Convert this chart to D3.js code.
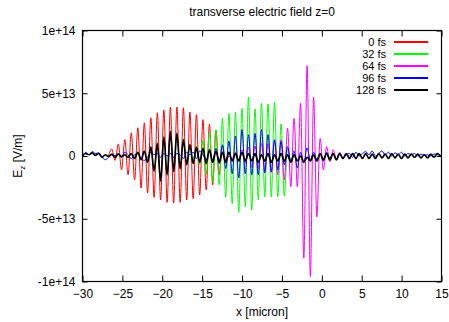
<!DOCTYPE html>
<html>
<head>
<meta charset="utf-8">
<script src="https://cdn.jsdelivr.net/npm/d3@7"></script>
<style>
  body { margin: 0; background: #fff; }
  text { font-family: "Liberation Sans", Arial, sans-serif; font-size: 12px; fill: #000; }
</style>
</head>
<body>
<div id="chart"></div>
<script>
// axis ticks
const xTicks = [-30, -25, -20, -15, -10, -5, 0, 5, 10, 15];
const yTicks = [-1e14, -5e13, 0, 5e13, 1e14];
const yTickLabels = ["-1e+14", "-5e+13", "0", "5e+13", "1e+14"];

// series names / colours (legend order)
const seriesNames = ["0 fs", "32 fs", "64 fs", "96 fs", "128 fs"];
const seriesColors = ["#ff0000", "#00ff00", "#ff00ff", "#0000ff", "#000000"];

// samples are on a grid of half a laser wavelength, values in 1e13 V/m
const step = 0.408;
const unit = 1e13;

const redStart = -26.736;
const redValues = [0, 0.56, -0.35, 0.95, -1.1, 1.3, -1.5, 1.85, -1.9, 2.25,
  -2.55, 2.65, -2.95, 3.05, -3.3, 3.45, -3.5, 3.65, -3.7, 3.9,
  -3.75, 3.9, -3.7, 3.85, -3.5, 3.5, -3.4, 3.3, -3.1, 2.9,
  -2.7, 2.55, -2.3, 2.0, -1.5, 0.8, -0.3, 0];

const greenStart = -16.536;
const greenValues = [0, -0.2, 0.4, -0.7, 1.2, -1.5, 1.9, -2.1, 2.1, -2.3,
  3.0, -3.3, 3.4, -3.8, 3.5, -4.5, 3.8, -4.05, 4.7, -4.3,
  3.75, -3.5, 4.2, -3.25, 4.15, -3.25, 4.3, -3.25, 2.55, -3.2,
  0.6, -0.3, 0];

const magentaStart = -11.64;
const magentaValues = [0, -0.2, 0.3, -0.4, 0.5, -0.6, 0.7, -0.9, 0.8, -1.0,
  1.0, -1.2, 1.0, -1.3, 1.2, -1.5, 1.3, -1.9, 2.2, -2.45,
  3.0, -2.45, 4.2, -8.15, 7.2, -9.6, 4.7, -4.85, 1.4, -1.1,
  0.75, -0.45, 0.5, -0.3, 0.3, -0.2, 0.1, 0];

const blueStart = -30;
const blueValues = [0.0, 0.3, 0.1, 0.35, 0.2, 0.25, -0.1, -0.3, -0.1, 0.1,
  0.0, 0.2, -0.1, 0.3, 0.1, -0.2, 0.1, 0.2, -0.2, -0.35,
  -0.1, 0.3, 0.1, 0.2, -0.1, 0.2, 0.0, 0.2, -0.1, 0.2,
  0.1, -0.2, 0.3, 0.1, 0.3, -0.2, 0.4, 0.1, -0.3, 0.4,
  -0.4, 0.6, -0.6, 0.9, -1.0, 1.2, -1.4, 1.6, -1.75, 2.1,
  -1.4, 1.7, -1.5, 1.8, -1.5, 2.1, -1.35, 1.7, -1.25, 1.3,
  -1.1, 1.15, -0.7, 0.75, -0.5, 0.4, -0.95, 0.3, -0.5, 0.65,
  -0.3, 0.3, -0.3, 0.2, -0.4, 0.3, -0.2, 0.2, -0.3, 0.2,
  -0.2, 0.1, 0.2, -0.1, 0.3, 0.0, 0.2, 0.35, 0.1, 0.4,
  0.0, 0.2, 0.4, 0.1, 0.3, 0.0, 0.25, 0.1, 0.3, 0.0,
  0.2, 0.1, 0.2, 0.0, 0.15, 0.05, 0.1, 0.0, 0.15, 0.1, 0.05];

const blackStart = -30;
const blackValues = [0.0, 0.2, 0.1, 0.25, 0.05, 0.2, -0.1, 0.1, -0.05, 0.15,
  -0.1, 0.15, -0.05, 0.1, -0.1, 0.2, -0.2, 0.3, -0.3, 0.4,
  -0.5, 0.7, -1.2, 1.0, -2.0, 1.5, -1.5, 1.95, -1.25, 1.8,
  -1.0, 1.3, -0.7, 0.9, -0.6, 0.7, -0.5, 0.6, -0.6, 0.5,
  -0.5, 0.4, -0.5, 0.3, -0.5, 0.3, -0.4, 0.2, -0.4, 0.3,
  -0.4, 0.2, -0.4, 0.2, -0.5, 0.1, -0.4, 0.2, -0.5, 0.1,
  -0.4, 0.2, -0.4, 0.1, -0.5, 0.1, -0.4, 0.0, -0.5, -0.1,
  -0.4, 0.1, -0.4, 0.2, -0.3, 0.2, -0.3, 0.2, -0.3, 0.2,
  -0.2, 0.2, -0.2, 0.2, -0.2, 0.2, -0.2, 0.2, -0.2, 0.15,
  -0.2, 0.2, -0.15, 0.15, -0.2, 0.2, -0.15, 0.15, -0.2, 0.15,
  -0.15, 0.15, -0.1, 0.15, -0.15, 0.1, -0.15, 0.15, -0.1, 0.2, 0.0];

const series = [
  { start: redStart, values: redValues },
  { start: greenStart, values: greenValues },
  { start: magentaStart, values: magentaValues },
  { start: blueStart, values: blueValues },
  { start: blackStart, values: blackValues }
];

const W = 449, H = 322;
const margin = { top: 30.5, right: 7.5, bottom: 40.5, left: 82.5 };
const width = W - margin.left - margin.right,
  height = H - margin.top - margin.bottom;

const svg = d3.select("#chart").append("svg")
  .attr("width", W)
  .attr("height", H);

const g = svg.append("g")
  .attr("transform", `translate(${margin.left},${margin.top})`);

const x = d3.scaleLinear().domain([-30, 15]).range([0, width]);
const y = d3.scaleLinear().domain([-1e14, 1e14]).range([height, 0]);

// clip the curves to the plot box
g.append("clipPath").attr("id", "clip")
  .append("rect").attr("width", width).attr("height", height);

const line = d3.line()
  .x(d => x(d[0]))
  .y(d => y(d[1]))
  .curve(d3.curveMonotoneX);

series.forEach((s, k) => {
  const pts = s.values.map((v, i) => [s.start + i * step, v * unit]);
  g.append("path")
    .attr("clip-path", "url(#clip)")
    .style("fill", "none")
    .style("stroke", seriesColors[k])
    .style("stroke-width", k === 4 ? 1.7 : 1)
    .attr("d", line(pts));
});

// axes, ticks pointing inwards on all four sides
const fmtY = d => yTickLabels[yTicks.indexOf(d)];

g.append("g")
  .attr("transform", `translate(0,${height})`)
  .call(d3.axisBottom(x).tickValues(xTicks).tickSizeInner(-6).tickSizeOuter(0).tickPadding(8));
g.append("g")
  .call(d3.axisTop(x).tickValues(xTicks).tickSizeInner(-6).tickSizeOuter(0).tickFormat(""));
g.append("g")
  .call(d3.axisLeft(y).tickValues(yTicks).tickFormat(fmtY).tickSizeInner(-5).tickSizeOuter(0).tickPadding(7));
g.append("g")
  .attr("transform", `translate(${width},0)`)
  .call(d3.axisRight(y).tickValues(yTicks).tickSizeInner(-5).tickSizeOuter(0).tickFormat(""));

g.selectAll(".tick text").attr("font-size", 12).attr("font-family", "Liberation Sans, Arial, sans-serif");
g.selectAll(".domain").remove();

g.append("rect")
  .attr("width", width)
  .attr("height", height)
  .attr("fill", "none")
  .attr("stroke", "#000")
  .attr("stroke-width", 1.2);

// title and axis labels
svg.append("text")
  .attr("x", margin.left + width / 2)
  .attr("y", 16)
  .attr("text-anchor", "middle")
  .text("transverse electric field z=0");

svg.append("text")
  .attr("x", margin.left + width / 2)
  .attr("y", 316)
  .attr("text-anchor", "middle")
  .text("x [micron]");

const yl = svg.append("text")
  .attr("transform", `translate(21.5,${margin.top + height / 2}) rotate(-90)`)
  .attr("text-anchor", "middle");
yl.append("tspan").text("E");
yl.append("tspan").attr("font-size", 8).attr("dy", 3).text("z");
yl.append("tspan").attr("dy", -3).text(" [V/m]");

// legend: coloured sample bars drawn as thin rects
const legend = svg.append("g");
seriesNames.forEach((name, k) => {
  const ly = 42 + k * 12;
  legend.append("text")
    .attr("x", 386)
    .attr("y", ly + 4)
    .attr("text-anchor", "end")
    .style("font-size", "11px")
    .text(name);
  legend.append("rect")
    .attr("x", 394).attr("y", ly - 1)
    .attr("width", 34).attr("height", 2)
    .style("fill", seriesColors[k])
    .style("stroke", "none");
});
</script>
</body>
</html>
